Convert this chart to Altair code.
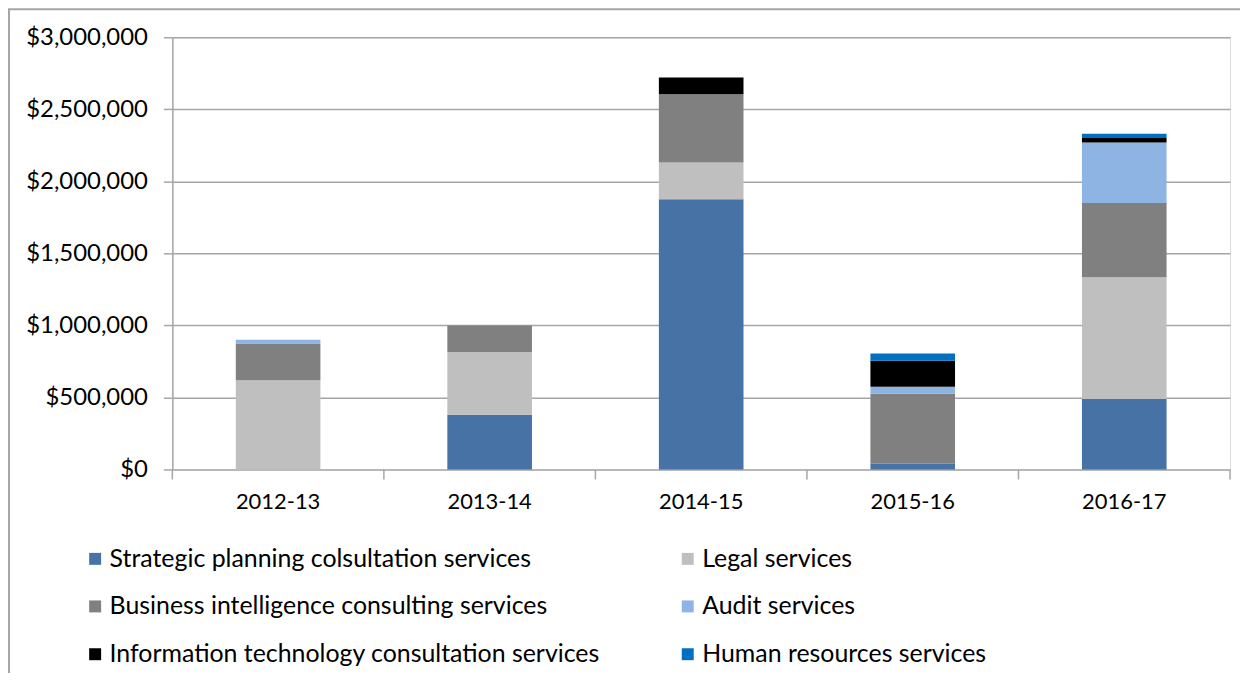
import altair as alt
import pandas as pd

years = ["2012-13", "2013-14", "2014-15", "2015-16", "2016-17"]
series = [
    "Strategic planning colsultation services",
    "Legal services",
    "Business intelligence consulting services",
    "Audit services",
    "Information technology consultation services",
    "Human resources services",
]
colors = ["#4672a5", "#bfbfbf", "#808080", "#8eb4e3", "#000000", "#0070c0"]

strategic = [0, 380000, 1875000, 40000, 490000]
legal = [620000, 435000, 255000, 0, 845000]
business = [255000, 185000, 475000, 485000, 515000]
audit = [25000, 0, 0, 50000, 420000]
it = [0, 0, 115000, 180000, 30000]
hr = [0, 0, 0, 50000, 30000]

values = [strategic, legal, business, audit, it, hr]
rows = []
for si, (name, vals) in enumerate(zip(series, values)):
    for y, v in zip(years, vals):
        rows.append({"year": y, "series": name, "value": v, "order": si})
df = pd.DataFrame(rows)

# legend laid out column by column: left column holds items 0,2,4, right column 1,3,5
legend_order = [series[0], series[2], series[4], series[1], series[3], series[5]]

W, H = 1062, 434
FONT = "Lato"
GRID = "#a6a6a6"
step = W / 5

xscale = alt.Scale(domain=years, paddingInner=0.6, paddingOuter=0.3)

bars = alt.Chart(df).mark_bar().encode(
    x=alt.X("year:N", scale=xscale, sort=years,
            axis=alt.Axis(title=None, ticks=False, domain=False, labelPadding=22,
                          labelFontSize=22, labelFont=FONT, labelColor="#000000",
                          labelAngle=0)),
    y=alt.Y("value:Q", stack="zero",
            scale=alt.Scale(domain=[0, 3000000], nice=False),
            axis=alt.Axis(title=None, values=[0, 500000, 1000000, 1500000, 2000000, 2500000, 3000000],
                          format="$,.0f", grid=True, gridColor=GRID, gridWidth=1.5,
                          tickColor=GRID, tickSize=9, tickWidth=1.5,
                          domainColor=GRID, domainWidth=1.5,
                          labelPadding=16, labelFontSize=24, labelFont=FONT,
                          labelColor="#000000")),
    color=alt.Color("series:N", scale=alt.Scale(domain=series, range=colors),
                    legend=alt.Legend(title=None, orient="none", legendX=-90, legendY=511,
                                      values=legend_order,
                                      columns=2, columnPadding=75, rowPadding=22,
                                      symbolType="square", symbolSize=144,
                                      symbolStrokeWidth=0, labelFont=FONT,
                                      labelFontSize=25, labelColor="#000000",
                                      labelLimit=700, symbolOffset=0, labelOffset=2)),
    order=alt.Order("order:Q", sort="ascending"),
)

tick_df = pd.DataFrame({"year": years})
edge_ticks = alt.Chart(tick_df).mark_rule(color=GRID, strokeWidth=1.5, xOffset=-step / 2).encode(
    x=alt.X("year:N", scale=xscale, sort=years),
    y=alt.value(H), y2=alt.value(H + 10),
)
end_tick = alt.Chart(tick_df.tail(1)).mark_rule(color=GRID, strokeWidth=1.5, xOffset=step / 2).encode(
    x=alt.X("year:N", scale=xscale, sort=years),
    y=alt.value(H), y2=alt.value(H + 10),
)

frame = alt.Chart(tick_df.head(1)).mark_rect(fill=None, stroke="#a6a6a6", strokeWidth=2, clip=False).encode(
    x=alt.value(-164), x2=alt.value(W + 200),
    y=alt.value(-28), y2=alt.value(H + 300),
)

chart = alt.layer(frame, bars, edge_ticks, end_tick).properties(
    width=W, height=H,
    autosize=alt.AutoSizeParams(type="none"),
    padding={"left": 165, "top": 28, "right": 10, "bottom": 203},
).configure_view(stroke=None).configure(background="white")

chart.save("out.html", embed_options={"renderer": "svg", "actions": False})
